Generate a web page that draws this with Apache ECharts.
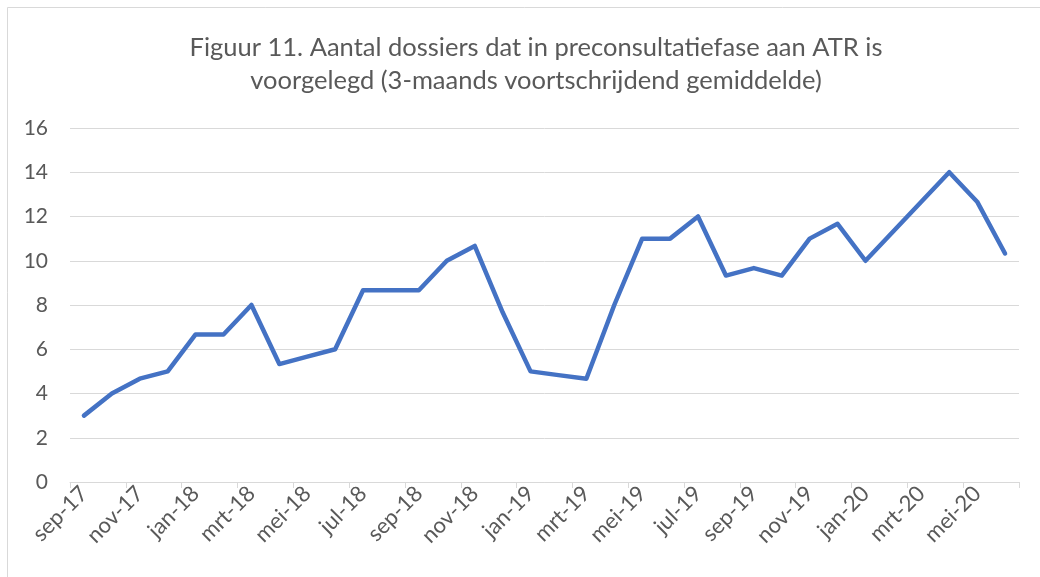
<!DOCTYPE html>
<html>
<head>
<meta charset="utf-8">
<script src="https://cdn.jsdelivr.net/npm/echarts@6/dist/echarts.min.js"></script>
<style>html,body{margin:0;padding:0;background:#fff}#c{width:1040px;height:577px}</style>
</head>
<body>
<div id="c"></div>
<script>
const titleText = 'Figuur 11. Aantal dossiers dat in preconsultatiefase aan ATR is\nvoorgelegd (3-maands voortschrijdend gemiddelde)';
const categories = ['sep-17','okt-17','nov-17','dec-17','jan-18','feb-18','mrt-18','apr-18','mei-18','jun-18','jul-18','aug-18',
  'sep-18','okt-18','nov-18','dec-18','jan-19','feb-19','mrt-19','apr-19','mei-19','jun-19','jul-19','aug-19',
  'sep-19','okt-19','nov-19','dec-19','jan-20','feb-20','mrt-20','apr-20','mei-20','jun-20'];
const values = [3, 4, 4.67, 5, 6.67, 6.67, 8, 5.33, 5.67, 6, 8.67, 8.67,
  8.67, 10, 10.67, 7.67, 5, 4.83, 4.67, 8, 11, 11, 12, 9.33,
  9.67, 9.33, 11, 11.67, 10, 11.33, 12.67, 14, 12.67, 10.33];
const yMin = 0, yMax = 16, yStep = 2;

const chart = echarts.init(document.getElementById('c'));
chart.setOption({
  animation: false,
  backgroundColor: '#fff',
  graphic: [{
    type: 'rect', shape: {x: 7.5, y: 7.5, width: 1100, height: 700},
    style: {fill: 'none', stroke: '#d9d9d9', lineWidth: 1}, silent: true
  }],
  title: {
    text: titleText, left: 531, top: 26, textAlign: 'center',
    textStyle: {fontFamily: 'Lato', fontSize: 25.5, fontWeight: 'normal', color: '#595959', lineHeight: 33}
  },
  grid: {left: 70, right: 21, top: 128, bottom: 95, containLabel: false},
  xAxis: {
    type: 'category', data: categories, boundaryGap: true,
    axisLine: {lineStyle: {color: '#d9d9d9', width: 1}},
    axisTick: {show: true, interval: 1, length: 6, lineStyle: {color: '#d9d9d9'}},
    axisLabel: {interval: 1, rotate: 45, margin: 8, fontFamily: 'Lato', fontSize: 22, color: '#595959'}
  },
  yAxis: {
    type: 'value', min: yMin, max: yMax, interval: yStep,
    axisLine: {show: false}, axisTick: {show: false},
    splitLine: {lineStyle: {color: '#d9d9d9', width: 1}},
    axisLabel: {margin: 22, fontFamily: 'Lato', fontSize: 21, color: '#595959'}
  },
  series: [{
    type: 'line', data: values, symbol: 'none',
    lineStyle: {color: '#4472C4', width: 4.5, cap: 'round', join: 'round'}
  }]
});
</script>
</body>
</html>
